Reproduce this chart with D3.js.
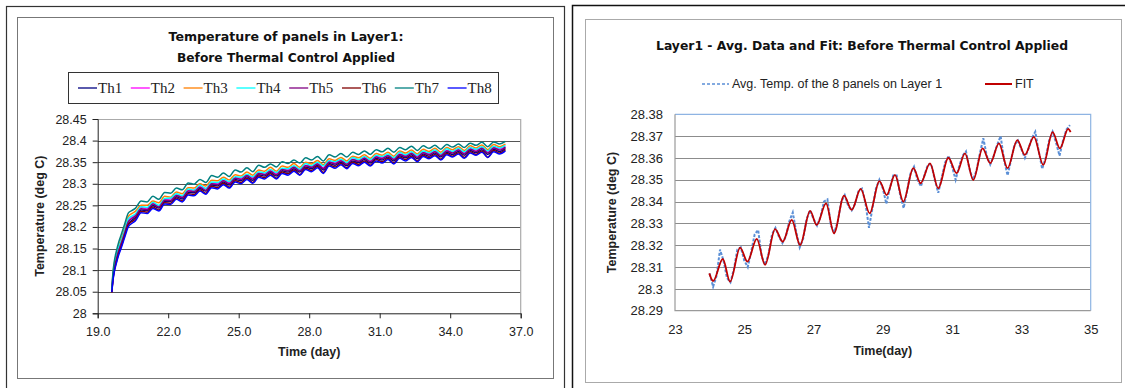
<!DOCTYPE html>
<html>
<head>
<meta charset="utf-8">
<script src="https://cdn.jsdelivr.net/npm/d3@7"></script>
<style>
  body { margin: 0; background: #fff; }
</style>
</head>
<body>
<svg id="chart" width="1125" height="388" font-family="'Liberation Sans', Arial, sans-serif"></svg>
<script>
// ---------- left chart data: 8 thermistors on layer 1 ----------
var leftTime = [19.6,19.65,19.7,19.8,19.9,20.0,20.15,20.3,20.45,20.6,
  20.85,21.1,21.35,21.6,21.85,22.1,22.35,22.6,22.85,23.1,
  23.35,23.6,23.85,24.1,24.35,24.6,24.85,25.1,25.35,25.6,
  25.85,26.1,26.35,26.6,26.85,27.1,27.35,27.6,27.85,28.1,
  28.35,28.6,28.85,29.1,29.35,29.6,29.85,30.1,30.35,30.6,
  30.85,31.1,31.35,31.6,31.85,32.1,32.35,32.6,32.85,33.1,
  33.35,33.6,33.85,34.1,34.35,34.6,34.85,35.1,35.35,35.6,
  35.85,36.1,36.35];

var th1 = [28.050,28.080,28.099,28.123,28.143,28.158,28.182,28.207,28.215,28.222,
  28.239,28.238,28.249,28.244,28.259,28.259,28.270,28.265,28.280,28.279,
  28.289,28.283,28.297,28.295,28.304,28.297,28.310,28.307,28.316,28.308,
  28.321,28.318,28.326,28.318,28.330,28.327,28.335,28.327,28.339,28.335,
  28.343,28.332,28.347,28.343,28.350,28.342,28.353,28.349,28.356,28.348,
  28.359,28.355,28.362,28.353,28.365,28.360,28.367,28.358,28.369,28.364,
  28.371,28.362,28.373,28.368,28.375,28.366,28.377,28.372,28.379,28.368,
  28.380,28.375,28.382];
var th2 = [28.050,28.085,28.106,28.131,28.151,28.166,28.190,28.215,28.222,28.228,
  28.245,28.242,28.255,28.248,28.263,28.265,28.274,28.271,28.284,28.285,
  28.293,28.289,28.301,28.301,28.308,28.303,28.314,28.313,28.320,28.314,
  28.325,28.324,28.330,28.324,28.334,28.333,28.339,28.333,28.343,28.341,
  28.347,28.337,28.351,28.349,28.354,28.348,28.357,28.355,28.360,28.354,
  28.363,28.361,28.366,28.359,28.369,28.366,28.371,28.364,28.373,28.370,
  28.375,28.368,28.377,28.374,28.379,28.372,28.381,28.378,28.383,28.374,
  28.384,28.381,28.386];
var th3 = [28.052,28.090,28.112,28.138,28.158,28.173,28.198,28.224,28.231,28.236,
  28.250,28.250,28.260,28.256,28.271,28.269,28.281,28.277,28.291,28.290,
  28.300,28.295,28.308,28.307,28.315,28.309,28.321,28.318,28.327,28.320,
  28.332,28.329,28.338,28.329,28.341,28.338,28.347,28.338,28.350,28.346,
  28.354,28.344,28.358,28.354,28.361,28.353,28.364,28.360,28.367,28.359,
  28.370,28.366,28.373,28.364,28.376,28.371,28.378,28.369,28.380,28.375,
  28.382,28.373,28.384,28.379,28.386,28.377,28.388,28.383,28.390,28.379,
  28.391,28.386,28.392];
var th4 = [28.051,28.087,28.108,28.134,28.154,28.168,28.193,28.219,28.225,28.230,
  28.247,28.245,28.257,28.250,28.266,28.267,28.277,28.272,28.288,28.285,
  28.297,28.289,28.304,28.303,28.311,28.305,28.316,28.315,28.322,28.316,
  28.328,28.325,28.333,28.326,28.336,28.335,28.342,28.334,28.347,28.342,
  28.350,28.341,28.354,28.351,28.357,28.349,28.361,28.356,28.363,28.356,
  28.366,28.363,28.369,28.360,28.373,28.367,28.374,28.366,28.376,28.372,
  28.378,28.369,28.381,28.375,28.382,28.374,28.384,28.380,28.386,28.376,
  28.387,28.383,28.389];
var th5 = [28.050,28.083,28.103,28.127,28.147,28.162,28.187,28.212,28.219,28.225,
  28.242,28.240,28.253,28.246,28.262,28.261,28.273,28.268,28.283,28.282,
  28.292,28.285,28.300,28.298,28.307,28.300,28.313,28.310,28.319,28.311,
  28.324,28.321,28.329,28.321,28.333,28.330,28.338,28.330,28.342,28.338,
  28.346,28.335,28.350,28.346,28.353,28.345,28.356,28.352,28.359,28.351,
  28.362,28.358,28.365,28.356,28.368,28.363,28.370,28.361,28.372,28.367,
  28.374,28.365,28.376,28.371,28.378,28.369,28.380,28.375,28.382,28.371,
  28.383,28.378,28.385];
var th6 = [28.048,28.078,28.097,28.120,28.140,28.155,28.180,28.205,28.212,28.218,
  28.236,28.234,28.246,28.239,28.256,28.255,28.267,28.260,28.277,28.275,
  28.286,28.278,28.294,28.291,28.301,28.292,28.307,28.303,28.313,28.303,
  28.318,28.314,28.323,28.313,28.327,28.323,28.332,28.321,28.336,28.331,
  28.340,28.326,28.344,28.339,28.347,28.337,28.350,28.345,28.353,28.343,
  28.356,28.351,28.359,28.348,28.362,28.356,28.364,28.353,28.366,28.360,
  28.368,28.357,28.370,28.364,28.372,28.361,28.374,28.368,28.376,28.361,
  28.377,28.371,28.379];
var th7 = [28.055,28.095,28.118,28.145,28.166,28.182,28.207,28.232,28.238,28.243,
  28.260,28.258,28.271,28.264,28.280,28.278,28.290,28.286,28.302,28.299,
  28.310,28.303,28.319,28.315,28.325,28.317,28.332,28.327,28.337,28.328,
  28.343,28.338,28.346,28.339,28.351,28.347,28.355,28.348,28.360,28.355,
  28.363,28.353,28.367,28.362,28.370,28.362,28.373,28.368,28.376,28.368,
  28.379,28.374,28.382,28.373,28.384,28.379,28.387,28.377,28.388,28.382,
  28.389,28.380,28.391,28.385,28.392,28.384,28.394,28.389,28.396,28.386,
  28.397,28.392,28.398];
var th8 = [28.049,28.076,28.094,28.117,28.136,28.151,28.176,28.200,28.208,28.214,
  28.233,28.231,28.243,28.237,28.253,28.252,28.264,28.258,28.274,28.272,
  28.283,28.276,28.291,28.288,28.298,28.290,28.304,28.300,28.310,28.301,
  28.315,28.311,28.320,28.311,28.324,28.320,28.329,28.320,28.333,28.328,
  28.337,28.324,28.341,28.336,28.344,28.335,28.347,28.342,28.350,28.341,
  28.353,28.348,28.356,28.346,28.359,28.353,28.361,28.351,28.363,28.358,
  28.365,28.355,28.367,28.362,28.369,28.359,28.371,28.366,28.373,28.361,
  28.374,28.369,28.376];

var seriesNames = ["Th1", "Th2", "Th3", "Th4", "Th5", "Th6", "Th7", "Th8"];
var seriesColors = ["#000080", "#ff00ff", "#ff7f00", "#00ffff", "#800080", "#800000", "#008080", "#0000ff"];
var leftYTicks = [28, 28.05, 28.1, 28.15, 28.2, 28.25, 28.3, 28.35, 28.4, 28.45];
var leftXTicks = [19, 22, 25, 28, 31, 34, 37];

// ---------- right chart data: average and fit ----------
var avgTime = [24.0,24.1,24.2,24.3,24.4,24.5,24.6,24.7,24.8,24.9,
  25.0,25.1,25.2,25.3,25.4,25.5,25.6,25.7,25.8,25.9,
  26.0,26.1,26.2,26.3,26.4,26.5,26.6,26.7,26.8,26.9,
  27.0,27.1,27.2,27.3,27.4,27.5,27.6,27.7,27.8,27.9,
  28.0,28.1,28.2,28.3,28.4,28.5,28.6,28.7,28.8,28.9,
  29.0,29.1,29.2,29.3,29.4,29.5,29.6,29.7,29.8,29.9,
  30.0,30.1,30.2,30.3,30.4,30.5,30.6,30.7,30.8,30.9,
  31.0,31.1,31.2,31.3,31.4,31.5,31.6,31.7,31.8,31.9,
  32.0,32.1,32.2,32.3,32.4,32.5,32.6,32.7,32.8,32.9,
  33.0,33.1,33.2,33.3,33.4,33.5,33.6,33.7,33.8,33.9,
  34.0,34.1,34.2,34.3,34.4];
var avgTemp = [28.307,28.301,28.306,28.318,28.313,28.305,28.303,28.309,28.318,28.319,
  28.313,28.310,28.317,28.325,28.327,28.315,28.311,28.316,28.325,28.328,
  28.324,28.321,28.324,28.331,28.335,28.326,28.319,28.323,28.332,28.336,
  28.332,28.329,28.333,28.340,28.341,28.329,28.326,28.331,28.340,28.343,
  28.338,28.336,28.339,28.345,28.346,28.339,28.328,28.337,28.346,28.350,
  28.346,28.339,28.346,28.352,28.352,28.343,28.337,28.345,28.353,28.356,
  28.350,28.347,28.352,28.357,28.357,28.350,28.344,28.351,28.358,28.361,
  28.356,28.350,28.356,28.361,28.363,28.355,28.350,28.354,28.362,28.369,
  28.361,28.357,28.361,28.366,28.370,28.359,28.352,28.359,28.366,28.368,
  28.364,28.360,28.364,28.369,28.372,28.363,28.355,28.360,28.368,28.372,
  28.367,28.361,28.368,28.373,28.375];

var fitTime = [23.99,24.10,24.38,24.59,24.88,25.09,25.36,25.60,25.89,26.11,
  26.37,26.61,26.90,27.09,27.36,27.59,27.88,28.10,28.36,28.62,
  28.90,29.11,29.35,29.59,29.88,30.09,30.36,30.60,30.89,31.13,
  31.37,31.61,31.88,32.10,32.35,32.60,32.88,33.10,33.36,33.63,
  33.90,34.11,34.35,34.42];
var fitTemp = [28.3071,28.3036,28.3137,28.3033,28.3189,28.3125,28.3229,28.3110,28.3274,28.3216,
  28.3316,28.3201,28.3357,28.3293,28.3392,28.3255,28.3427,28.3362,28.3458,28.3346,
  28.3494,28.3430,28.3522,28.3400,28.3553,28.3484,28.3575,28.3461,28.3601,28.3530,
  28.3621,28.3499,28.3644,28.3576,28.3667,28.3553,28.3682,28.3614,28.3697,28.3568,
  28.3718,28.3644,28.3733,28.3718];

var rightYTicks = [28.29, 28.3, 28.31, 28.32, 28.33, 28.34, 28.35, 28.36, 28.37, 28.38];
var rightXTicks = [23, 25, 27, 29, 31, 33, 35];

var svg = d3.select("#chart");
var fmtG = function(d) { return String(+d.toFixed(2)); };
var textCol = "#222";

// =============== LEFT CHART ===============
svg.append("rect").attr("x", 6.5).attr("y", 6.5).attr("width", 558).attr("height", 390)
  .attr("fill", "#fff").attr("stroke", "#333").attr("stroke-width", 1.2);
svg.append("rect").attr("x", 17.5).attr("y", 17.5).attr("width", 536).attr("height", 361)
  .attr("fill", "#fff").attr("stroke", "#777");

var titleFont = "'DejaVu Sans', sans-serif";
svg.append("text").attr("x", 286).attr("y", 41).attr("text-anchor", "middle")
  .attr("font-family", titleFont).attr("font-weight", "bold").attr("font-size", 13).attr("fill", "#111")
  .attr("textLength", 235).attr("lengthAdjust", "spacingAndGlyphs")
  .text("Temperature of panels in Layer1:");
svg.append("text").attr("x", 286).attr("y", 62).attr("text-anchor", "middle")
  .attr("font-family", titleFont).attr("font-weight", "bold").attr("font-size", 13).attr("fill", "#111")
  .attr("textLength", 218).attr("lengthAdjust", "spacingAndGlyphs")
  .text("Before Thermal Control Applied");

// legend
svg.append("rect").attr("x", 68.5).attr("y", 72.5).attr("width", 430).attr("height", 31)
  .attr("fill", "#fff").attr("stroke", "#333");
var leg = svg.append("g").selectAll("g").data(seriesNames).join("g")
  .attr("transform", function(d, i) { return "translate(" + (78 + i * 52.8) + ",88)"; });
leg.append("line").attr("x1", 0).attr("x2", 19).attr("y1", 0).attr("y2", 0)
  .attr("stroke", function(d, i) { return seriesColors[i]; }).attr("stroke-width", 1.3);
leg.append("text").attr("x", 20).attr("y", 0).attr("dy", "0.35em").attr("fill", textCol)
  .attr("font-family", "'Liberation Serif', serif").attr("font-size", 15)
  .text(function(d) { return d; });

var xL = d3.scaleLinear().domain([19, 37]).range([97.7, 520.7]);
var yL = d3.scaleLinear().domain([28, 28.45]).range([313.3, 119]);

// gridlines
svg.append("g").selectAll("line").data(leftYTicks.slice(1)).join("line")
  .attr("x1", xL(19)).attr("x2", xL(37))
  .attr("y1", function(d) { return Math.round(yL(d)) + 0.5; })
  .attr("y2", function(d) { return Math.round(yL(d)) + 0.5; })
  .attr("stroke", function(d) { return d === 28.45 ? "#aaa" : "#555"; }).attr("stroke-width", 1.2);
svg.append("line").attr("x1", xL(37)).attr("x2", xL(37)).attr("y1", yL(28.45)).attr("y2", yL(28))
  .attr("stroke", "#aaa").attr("stroke-width", 1.2);

var gyL = svg.append("g").attr("transform", "translate(" + xL(19) + ",0)")
  .call(d3.axisLeft(yL).tickValues(leftYTicks).tickSize(5).tickPadding(6).tickFormat(fmtG));
var gxL = svg.append("g").attr("transform", "translate(0," + yL(28) + ")")
  .call(d3.axisBottom(xL).tickValues(leftXTicks).tickSize(5).tickPadding(9).tickFormat(d3.format(".1f")));
[gyL, gxL].forEach(function(g) {
  g.attr("font-family", null);
  g.select(".domain").attr("stroke", "#222");
  g.selectAll(".tick line").attr("stroke", "#222");
  g.selectAll(".tick text").attr("font-size", 12.5).attr("fill", textCol);
});

var lineL = d3.line().curve(d3.curveMonotoneX)
  .x(function(d) { return xL(d[0]); }).y(function(d) { return yL(d[1]); });
var leftSeries = [th1, th2, th3, th4, th5, th6, th7, th8];
svg.append("g").selectAll("path").data(leftSeries).join("path")
  .attr("d", function(s) { return lineL(leftTime.map(function(t, i) { return [t, s[i]]; })); })
  .attr("fill", "none").attr("stroke", function(d, i) { return seriesColors[i]; })
  .attr("stroke-width", 1.5).attr("stroke-linejoin", "round");

svg.append("text").attr("transform", "translate(44," + ((yL(28) + yL(28.45)) / 2) + ") rotate(-90)")
  .attr("text-anchor", "middle").attr("font-weight", "bold").attr("font-size", 12.5).attr("fill", textCol)
  .text("Temperature (deg C)");
svg.append("text").attr("x", (xL(19) + xL(37)) / 2).attr("y", 356).attr("text-anchor", "middle")
  .attr("font-weight", "bold").attr("font-size", 12.5).attr("fill", textCol).text("Time (day)");

// =============== RIGHT CHART ===============
svg.append("rect").attr("x", 572.5).attr("y", 5.5).attr("width", 560).attr("height", 390)
  .attr("fill", "#fff").attr("stroke", "#111").attr("stroke-width", 1.5);
svg.append("rect").attr("x", 585.5).attr("y", 19.5).attr("width", 536).attr("height", 363)
  .attr("fill", "#fff").attr("stroke", "#aaa");

svg.append("text").attr("x", 862).attr("y", 50).attr("text-anchor", "middle")
  .attr("font-family", titleFont).attr("font-weight", "bold").attr("font-size", 13).attr("fill", "#111")
  .attr("textLength", 412).attr("lengthAdjust", "spacingAndGlyphs")
  .text("Layer1 - Avg. Data and Fit: Before Thermal Control Applied");

var avgColor = "#5b8fd6", fitColor = "#c00000";
svg.append("line").attr("x1", 702).attr("x2", 729).attr("y1", 84).attr("y2", 84)
  .attr("stroke", avgColor).attr("stroke-width", 1.5).attr("stroke-dasharray", "3,2");
svg.append("text").attr("x", 732).attr("y", 84).attr("dy", "0.35em").attr("font-size", 12.5).attr("fill", textCol)
  .text("Avg. Temp. of the 8 panels on Layer 1");
svg.append("line").attr("x1", 985).attr("x2", 1012).attr("y1", 84).attr("y2", 84)
  .attr("stroke", fitColor).attr("stroke-width", 2);
svg.append("text").attr("x", 1015).attr("y", 84).attr("dy", "0.35em").attr("font-size", 12.5).attr("fill", textCol)
  .text("FIT");

var xR = d3.scaleLinear().domain([23, 35]).range([675, 1090.7]);
var yR = d3.scaleLinear().domain([28.29, 28.38]).range([310.7, 114.3]);

svg.append("g").selectAll("line").data(rightYTicks.slice(1, -1)).join("line")
  .attr("x1", xR(23)).attr("x2", xR(35))
  .attr("y1", function(d) { return Math.round(yR(d)) + 0.5; })
  .attr("y2", function(d) { return Math.round(yR(d)) + 0.5; })
  .attr("stroke", "#8c8c8c");
// plot frame: blue top/right, grey left/bottom
svg.append("path").attr("d", "M" + xR(23) + "," + yR(28.38) + "H" + xR(35) + "V" + yR(28.29))
  .attr("fill", "none").attr("stroke", "#8eb4e3").attr("stroke-width", 1.2);
svg.append("path").attr("d", "M" + xR(23) + "," + yR(28.38) + "V" + yR(28.29) + "H" + xR(35))
  .attr("fill", "none").attr("stroke", "#9a9a9a").attr("stroke-width", 1.2);

var gyR = svg.append("g").attr("transform", "translate(" + xR(23) + ",0)")
  .call(d3.axisLeft(yR).tickValues(rightYTicks).tickSize(0).tickPadding(12).tickFormat(fmtG));
var gxR = svg.append("g").attr("transform", "translate(0," + yR(28.29) + ")")
  .call(d3.axisBottom(xR).tickValues(rightXTicks).tickSize(0).tickPadding(14).tickFormat(d3.format("d")));
[gyR, gxR].forEach(function(g) {
  g.attr("font-family", null);
  g.select(".domain").remove();
  g.selectAll(".tick text").attr("font-size", 13).attr("fill", textCol);
});

var lineR = d3.line().x(function(d) { return xR(d[0]); }).y(function(d) { return yR(d[1]); });
svg.append("path")
  .attr("d", lineR(avgTime.map(function(t, i) { return [t, avgTemp[i]]; })))
  .attr("fill", "none").attr("stroke", avgColor).attr("stroke-width", 2).attr("stroke-dasharray", "3,1.5");
svg.append("path")
  .attr("d", lineR.curve(d3.curveMonotoneX)(fitTime.map(function(t, i) { return [t, fitTemp[i]]; })))
  .attr("fill", "none").attr("stroke", fitColor).attr("stroke-width", 1.8);

svg.append("text").attr("transform", "translate(616," + ((yR(28.29) + yR(28.38)) / 2) + ") rotate(-90)")
  .attr("text-anchor", "middle").attr("font-weight", "bold").attr("font-size", 12.5).attr("fill", textCol)
  .text("Temperature (deg C)");
svg.append("text").attr("x", (xR(23) + xR(35)) / 2).attr("y", 355).attr("text-anchor", "middle")
  .attr("font-weight", "bold").attr("font-size", 12.5).attr("fill", textCol).text("Time(day)");
</script>
</body>
</html>
